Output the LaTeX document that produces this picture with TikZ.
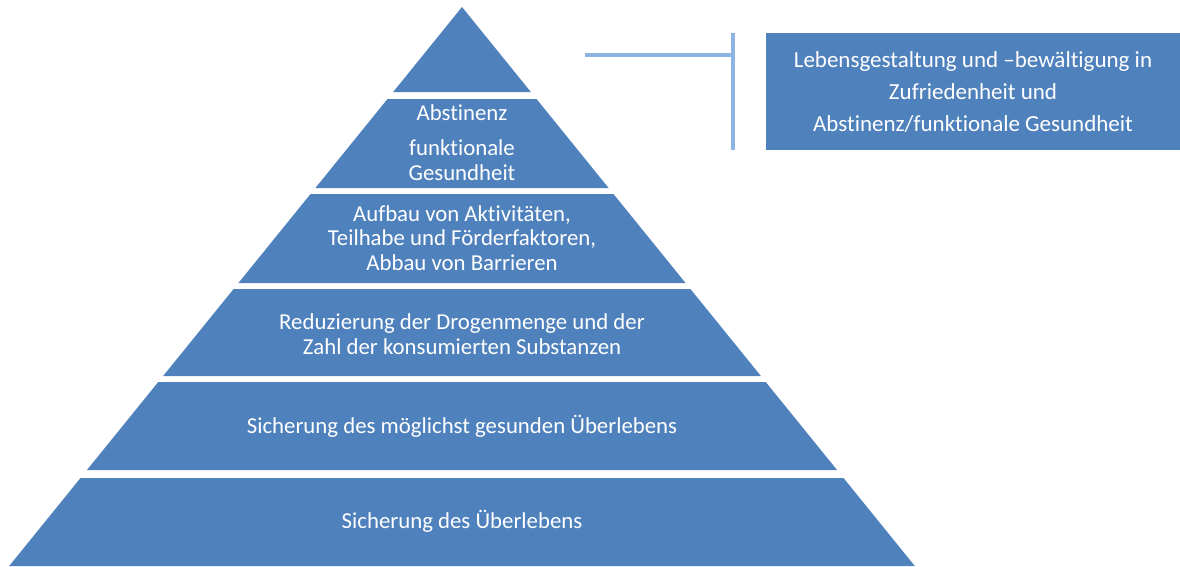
\documentclass[tikz,border=0pt]{standalone}
\usepackage{fontspec}
\setmainfont{Carlito}[Ligatures={NoCommon}]
\usepackage{tikz}
\usetikzlibrary{positioning,calc}
\usepackage{xcolor}
\definecolor{pyrblue}{HTML}{4F81BD}
\definecolor{linkblue}{HTML}{8EB4E3}

\begin{document}
\begin{tikzpicture}[
    x=1pt, y=-1pt,
    every node/.style={font=\fontsize{22.8}{24.5}\selectfont, text=white},
    layer/.style={fill=pyrblue},
    lbl/.style={align=center, inner sep=0pt},
    goalbox/.style={
      rectangle, fill=pyrblue, minimum width=414pt, minimum height=117pt,
      align=center, inner sep=0pt,
      font=\fontsize{23}{32}\selectfont
    },
    link/.style={draw=linkblue, line width=3.5pt}
  ]
  \useasboundingbox (0,0) rectangle (1180,566);

  % Pyramid layers (top / bottom edge)
  \fill[layer] (462,7) -- ({462+0.81*85},92) -- ({462-0.81*85},92) -- cycle;
  \foreach \t/\b in {99/188, 194/283, 289/376, 382/470, 478/566}
    \fill[layer] ({462-0.81*(\t-7)},\t) -- ({462+0.81*(\t-7)},\t)
      -- ({462+0.81*(\b-7)},\b) -- ({462-0.81*(\b-7)},\b) -- cycle;

  % Layer labels
  \node[lbl] (abst) at (462,113) {Abstinenz};
  \node[lbl] (funkt) at (462,160) {funktionale\\Gesundheit};
  \node[lbl] (aufbau) at (462,238) {Aufbau von Aktivitäten,\\Teilhabe und Förderfaktoren,\\Abbau von Barrieren};
  \node[lbl] (reduz) at (462,334) {Reduzierung der Drogenmenge und der\\Zahl der konsumierten Substanzen};
  \node[lbl] (gesund) at (462,426) {Sicherung des möglichst gesunden Überlebens};
  \node[lbl] (ueberl) at (462,521) {Sicherung des Überlebens};

  % Goal box
  \node[goalbox] (goal) at (973,91.5) {Lebensgestaltung und –bewältigung in\\Zufriedenheit und\\Abstinenz/funktionale Gesundheit};

  % Connector
  \coordinate (tip) at (585,55);
  \coordinate (bartop) at (733,33);
  \coordinate (barbot) at (733,150);
  \draw[link] (bartop) -- (barbot);
  \draw[link] (tip) -- (tip -| bartop);

\end{tikzpicture}
\end{document}
